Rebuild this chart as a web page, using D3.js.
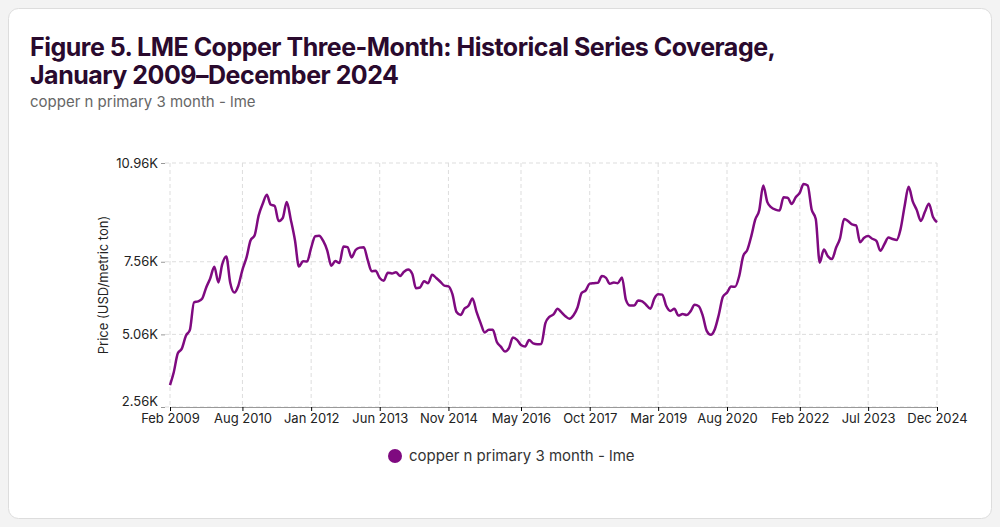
<!DOCTYPE html>
<html><head><meta charset="utf-8">
<script src="https://cdn.jsdelivr.net/npm/d3@7"></script>
<style>body{margin:0;background:#f3f3f3;font-family:Inter,"Noto Sans",sans-serif}</style>
</head><body><svg id="c" width="1000" height="527"></svg>
<script>
const startMonth = "2009-02";
const prices = [
3315,3750,4407,4569,5014,5216,6165,6196,6288,6676,6982,
7386,6848,7463,7745,6838,6499,6735,7284,7709,8292,8470,9147,
9556,9867,9530,9482,8960,9067,9619,9001,8300,7394,7581,7565,
8040,8441,8456,8276,7955,7423,7584,7515,8088,8062,7711,7966,
8047,8060,7646,7234,7250,7000,6907,7186,7159,7203,7071,7215,
7291,7149,6650,6674,6891,6821,7113,7002,6872,6737,6713,6446,
5831,5729,5940,6042,6295,5833,5457,5127,5217,5216,4800,4638,
4472,4599,4954,4873,4694,4642,4864,4751,4722,4731,5450,5660,
5745,5941,5825,5684,5600,5720,5985,6485,6576,6808,6824,6834,
7066,7006,6800,6844,6824,7018,6249,6051,6050,6226,6194,6073,
5939,6301,6439,6429,6035,5868,5940,5709,5760,5729,5860,6077,
6031,5687,5183,5048,5239,5755,6353,6497,6705,6702,7069,7755,
7970,8460,8999,9335,10184,9612,9433,9357,9324,9778,9765,9550,
9780,9941,10238,10183,9362,9034,7530,7982,7746,7651,8045,8367,
9036,8955,8845,8814,8234,8386,8444,8352,8276,7940,8172,8394,
8344,8311,8675,9480,10139,9640,9346,8966,9279,9560,9097,8920];
const xTickLabels = ["Feb 2009","Aug 2010","Jan 2012","Jun 2013","Nov 2014","May 2016","Oct 2017","Mar 2019","Aug 2020","Feb 2022","Jul 2023","Dec 2024"];
const yTicks = [2560,5060,7560,10960];
const seriesName = "copper n primary 3 month - lme";

const parse = d3.timeParse("%Y-%m");
const fmtTick = d3.timeParse("%b %Y");
const t0 = parse(startMonth);
const data = prices.map((v,i)=>({d:d3.timeMonth.offset(t0,i),v}));
const svg = d3.select("#c");
svg.append("rect").attr("x",8.5).attr("y",8.5).attr("width",983).attr("height",510).attr("rx",10).attr("fill","#fff").attr("stroke","#ddd");
svg.append("text").attr("x",30).attr("y",56).attr("font-size",25).attr("font-weight",700).attr("fill","#2a0a2e").attr("letter-spacing",-0.5).text("Figure 5. LME Copper Three-Month: Historical Series Coverage,");
svg.append("text").attr("x",30).attr("y",84).attr("font-size",25).attr("font-weight",700).attr("fill","#2a0a2e").attr("letter-spacing",-0.5).text("January 2009–December 2024");
svg.append("text").attr("x",30).attr("y",107).attr("font-size",15).attr("fill","#666").text(seriesName);

const x = d3.scaleTime().domain([data[0].d, data[data.length-1].d]).range([170,937]);
const y = d3.scaleLinear().domain([2560,10960]).range([407,163]);
const xt = xTickLabels.map(fmtTick);
const g = svg.append("g");
g.selectAll(".gy").data(yTicks).join("line").attr("x1",165).attr("x2",937).attr("y1",d=>y(d)).attr("y2",d=>y(d)).attr("stroke","#ddd").attr("stroke-dasharray","4,3");
g.selectAll(".gx").data(xt).join("line").attr("x1",d=>x(d)).attr("x2",d=>x(d)).attr("y1",163).attr("y2",407).attr("stroke","#ddd").attr("stroke-dasharray","4,3");
const ax = svg.append("g").attr("transform","translate(0,407)").call(d3.axisBottom(x).tickValues(xt).tickFormat(d3.timeFormat("%b %Y")).tickSize(4));
ax.select(".domain").attr("stroke","#999");
ax.selectAll("text").attr("font-size",13).attr("fill","#222").attr("font-family","Inter,sans-serif");
const ay = svg.append("g").attr("transform","translate(165,0)").call(d3.axisLeft(y).tickValues(yTicks).tickFormat(d=>(d/1000).toFixed(2)+"K").tickSize(4));
ay.select(".domain").remove();
ay.selectAll("line").attr("stroke","#999");
ay.selectAll("text").attr("font-size",13).attr("fill","#222").attr("font-family","Inter,sans-serif")
  .attr("dy",d=>d===yTicks[0]?"-0.1em":"0.32em");
svg.append("text").attr("transform","translate(108,285) rotate(-90)").attr("text-anchor","middle").attr("font-size",13).attr("fill","#222").text("Price (USD/metric ton)");
svg.append("path").datum(data).attr("fill","none").attr("stroke","#7f0a80").attr("stroke-width",2.5)
 .attr("d",d3.line().x(d=>x(d.d)).y(d=>y(d.v)).curve(d3.curveMonotoneX));
svg.append("circle").attr("cx",395).attr("cy",456).attr("r",7).attr("fill","#7f0a80");
svg.append("text").attr("x",409).attr("y",461).attr("font-size",15).attr("fill","#333").text(seriesName);
</script></body></html>
